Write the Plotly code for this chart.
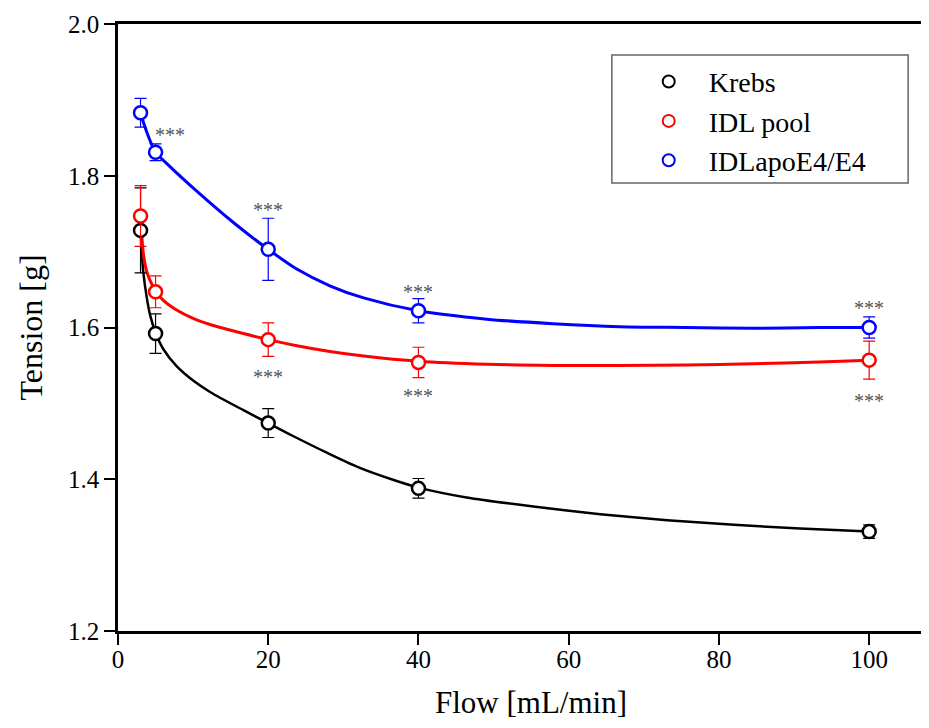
import plotly.graph_objects as go

# measured points (mean +- error)
flow = [3, 5, 20, 40, 100]

krebs = [1.728, 1.592, 1.474, 1.388, 1.331]
krebs_err = [0.056, 0.026, 0.019, 0.013, 0.009]

idl_pool = [1.747, 1.647, 1.584, 1.554, 1.557]
idl_pool_err = [0.040, 0.021, 0.022, 0.020, 0.025]

idl_e4 = [1.883, 1.831, 1.703, 1.622, 1.600]
idl_e4_err = [0.019, 0.011, 0.041, 0.016, 0.014]

# fitted curves
krebs_fit_x = [3, 3.15, 3.37, 3.82, 4.26, 5, 6, 7.8, 10, 12.25, 16.7, 20, 23.3, 27.8, 32.2, 36.7, 40, 46.4, 55.3, 64.2, 73.1, 82, 90.8, 100]
krebs_fit_y = [1.728, 1.702, 1.673, 1.640, 1.617, 1.593, 1.572, 1.549, 1.530, 1.515, 1.491, 1.474, 1.457, 1.435, 1.415, 1.399, 1.389, 1.376, 1.364, 1.354, 1.346, 1.340, 1.335, 1.331]

pool_fit_x = [3, 3.37, 3.82, 4.26, 5, 6, 7.8, 10, 12.25, 16.7, 20, 23.8, 28.2, 32.7, 40, 49.1, 57.9, 66.8, 75.7, 84.5, 93.4, 100]
pool_fit_y = [1.747, 1.698, 1.674, 1.662, 1.648, 1.636, 1.623, 1.612, 1.604, 1.592, 1.584, 1.576, 1.5685, 1.5625, 1.5555, 1.5515, 1.5500, 1.5498, 1.5506, 1.5522, 1.5545, 1.557]

e4_fit_x = [3, 4, 5, 6.5, 10.9, 15.4, 20, 23.8, 28.2, 32.7, 40, 49.1, 57.9, 66.8, 75.7, 84.5, 93.4, 100]
e4_fit_y = [1.882, 1.853, 1.831, 1.816, 1.776, 1.738, 1.703, 1.677, 1.655, 1.639, 1.622, 1.611, 1.605, 1.601, 1.600, 1.599, 1.600, 1.600]

# significance marks
star_x = [6.9, 20, 40, 100, 20, 40, 100]
star_y = [1.860, 1.761, 1.654, 1.632, 1.541, 1.516, 1.510]

FONT = "Liberation Serif"

fig = go.Figure()

series = [
    ("Krebs", "black", krebs, krebs_err, krebs_fit_x, krebs_fit_y, 2.5),
    ("IDL pool", "#ff0000", idl_pool, idl_pool_err, pool_fit_x, pool_fit_y, 3),
    ("IDLapoE4/E4", "#0000ff", idl_e4, idl_e4_err, e4_fit_x, e4_fit_y, 3),
]

for name, col, y, err, fx, fy, lw in series:
    fig.add_trace(go.Scatter(x=fx, y=fy, mode="lines", line=dict(color=col, width=lw, shape="spline", smoothing=0.8),
                             showlegend=False, hoverinfo="skip"))

for name, col, y, err, fx, fy, lw in series:
    fig.add_trace(go.Scatter(x=flow, y=y, mode="markers", name=name,
                             marker=dict(symbol="circle", size=13, color="white", line=dict(color=col, width=2.5)),
                             error_y=dict(type="data", array=err, color=col, thickness=1.2, width=6)))

for sx, sy in zip(star_x, star_y):
    fig.add_annotation(x=sx, y=sy, text="***", showarrow=False, yshift=-5,
                       font=dict(family=FONT, size=20, color="#555555"))

# x axis title placed by hand
fig.add_annotation(x=0.514, y=-0.118, xref="paper", yref="paper", text="Flow [mL/min]", showarrow=False,
                   xanchor="center", yanchor="middle", font=dict(family=FONT, size=31, color="black"))

# legend frame
fig.add_shape(type="rect", xref="paper", yref="paper", x0=0.615, x1=0.984, y0=0.738, y1=0.949,
              line=dict(color="#666666", width=1.5))

fig.update_xaxes(range=[0, 106.9], tickvals=[0, 20, 40, 60, 80, 100], showline=True, linewidth=2.5,
                 linecolor="black", mirror=True, ticks="outside", ticklen=11, tickwidth=2,
                 tickcolor="black", showgrid=False, zeroline=False, ticklabelstandoff=-7,
                 automargin=False, tickfont=dict(family=FONT, size=25, color="black"))
fig.update_yaxes(range=[1.2, 2.0], tickvals=[1.2, 1.4, 1.6, 1.8, 2.0], ticktext=["1.2", "1.4", "1.6", "1.8", "2.0"],
                 showline=True, linewidth=2.5, linecolor="black", ticks="outside", ticklen=11, tickwidth=2,
                 tickcolor="black", showgrid=False, zeroline=False,
                 tickfont=dict(family=FONT, size=25, color="black"),
                 title=dict(text="Tension [g]", font=dict(family=FONT, size=32, color="black"), standoff=16))

fig.update_layout(width=913, height=712, plot_bgcolor="white", paper_bgcolor="white",
                  margin=dict(l=110, r=0, t=16, b=89),
                  legend=dict(x=0.636, y=0.946, xanchor="left", yanchor="top",
                              borderwidth=0, bgcolor="rgba(0,0,0,0)",
                              font=dict(family=FONT, size=28, color="black"),
                              itemwidth=70, itemsizing="constant"))

fig.write_html("out.html")
